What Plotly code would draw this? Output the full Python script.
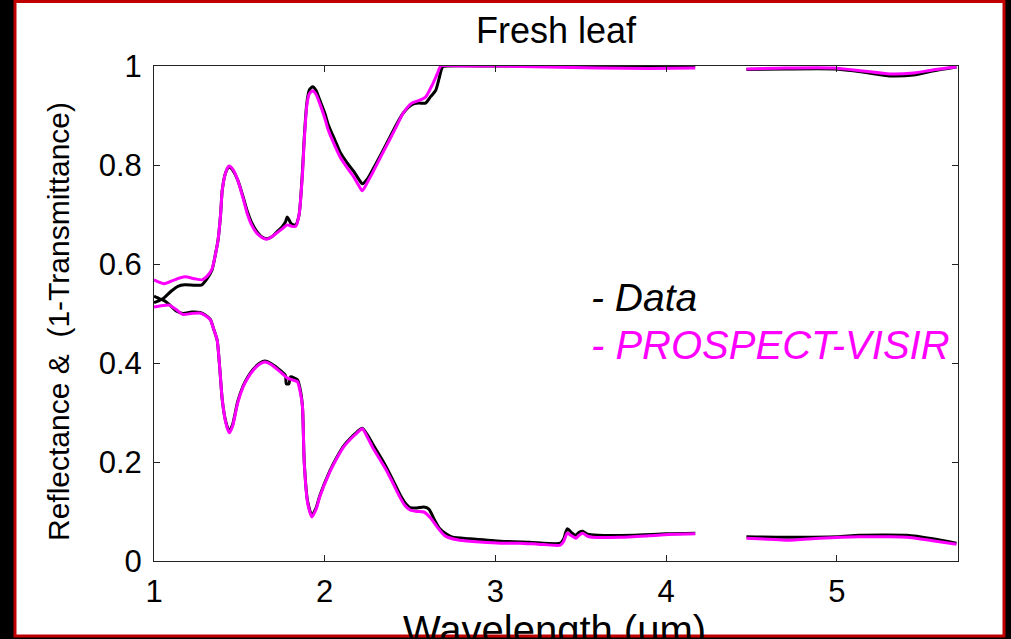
import plotly.graph_objects as go

# ---------------- data ----------------
# 1 - Transmittance, measured (black)
wl_t_data = [1.00, 1.03, 1.06, 1.10, 1.14, 1.18, 1.24, 1.28, 1.31, 1.34, 1.36, 1.375, 1.39, 1.40, 1.42,
             1.44, 1.46, 1.49, 1.52, 1.545, 1.57, 1.60, 1.63, 1.66, 1.69, 1.72, 1.75, 1.77, 1.78, 1.79,
             1.80, 1.81, 1.83, 1.85, 1.87, 1.88, 1.895, 1.91, 1.93, 1.95, 1.97, 2.00, 2.02, 2.06, 2.09,
             2.13, 2.17, 2.20, 2.22, 2.25, 2.28, 2.33, 2.38, 2.42, 2.46, 2.51, 2.55, 2.59, 2.62, 2.65,
             2.67, 2.69, 2.72, 3.0, 3.5, 4.17, None, 4.47, 4.7, 4.98, 5.15, 5.31, 5.45, 5.56, 5.7]
t_data = [0.522, 0.526, 0.532, 0.545, 0.555, 0.558, 0.557, 0.558, 0.57, 0.588, 0.62, 0.648, 0.70, 0.75, 0.785,
          0.797, 0.79, 0.77, 0.738, 0.708, 0.685, 0.667, 0.655, 0.651, 0.655, 0.665, 0.675, 0.685, 0.695, 0.69,
          0.683, 0.68, 0.679, 0.70, 0.79, 0.855, 0.925, 0.952, 0.958, 0.95, 0.932, 0.905, 0.882, 0.85, 0.826,
          0.805, 0.787, 0.771, 0.762, 0.772, 0.79, 0.822, 0.855, 0.882, 0.905, 0.922, 0.925, 0.925, 0.938, 0.951,
          0.975, 0.998, 1.0, 1.0, 1.0, 1.0, None, 0.993, 0.994, 0.994, 0.988, 0.980, 0.982, 0.99, 0.998]

# 1 - Transmittance, PROSPECT-VISIR (magenta)
wl_t_model = [1.00, 1.06, 1.12, 1.18, 1.24, 1.28, 1.31, 1.34, 1.36, 1.375, 1.39, 1.40, 1.42, 1.44, 1.46,
              1.49, 1.52, 1.545, 1.57, 1.60, 1.63, 1.66, 1.69, 1.72, 1.75, 1.78, 1.81, 1.83, 1.85, 1.87,
              1.88, 1.895, 1.91, 1.93, 1.95, 1.97, 2.00, 2.02, 2.06, 2.09, 2.13, 2.17, 2.20, 2.22, 2.25,
              2.28, 2.33, 2.38, 2.42, 2.46, 2.51, 2.55, 2.59, 2.63, 2.66, 2.68, 2.8, 3.0, 3.3, 3.6, 3.9,
              4.17, None, 4.47, 4.7, 4.98, 5.15, 5.31, 5.45, 5.56, 5.7]
t_model = [0.568, 0.560, 0.568, 0.574, 0.570, 0.568, 0.575, 0.590, 0.62, 0.648, 0.70, 0.75, 0.785, 0.798, 0.792,
           0.77, 0.735, 0.703, 0.68, 0.663, 0.654, 0.650, 0.655, 0.663, 0.671, 0.679, 0.676, 0.676, 0.70, 0.784,
           0.85, 0.92, 0.944, 0.950, 0.942, 0.925, 0.895, 0.871, 0.838, 0.816, 0.795, 0.776, 0.758, 0.748, 0.765,
           0.784, 0.818, 0.851, 0.878, 0.905, 0.925, 0.930, 0.937, 0.962, 0.985, 1.0, 1.0, 1.0, 0.998, 0.996, 0.995,
           0.996, None, 0.994, 0.996, 0.996, 0.99, 0.984, 0.986, 0.992, 0.998]

# Reflectance, measured (black)
wl_r_data = [1.00, 1.03, 1.06, 1.09, 1.13, 1.17, 1.22, 1.27, 1.30, 1.33, 1.35, 1.37, 1.385, 1.40, 1.42,
             1.44, 1.46, 1.49, 1.52, 1.55, 1.58, 1.62, 1.65, 1.69, 1.74, 1.77, 1.775, 1.79, 1.80, 1.84,
             1.86, 1.87, 1.88, 1.90, 1.925, 1.95, 1.97, 2.03, 2.07, 2.11, 2.15, 2.19, 2.22, 2.25, 2.28,
             2.32, 2.36, 2.40, 2.44, 2.47, 2.50, 2.54, 2.58, 2.61, 2.64, 2.67, 2.71, 2.75, 2.85, 3.03,
             3.2, 3.38, 3.40, 3.42, 3.45, 3.47, 3.49, 3.51, 3.54, 3.6, 3.8, 4.0, 4.17, None,
             4.47, 4.7, 5.0, 5.13, 5.41, 5.56, 5.7]
r_data = [0.535, 0.530, 0.526, 0.518, 0.505, 0.500, 0.503, 0.502, 0.497, 0.488, 0.468, 0.446, 0.39, 0.325, 0.282,
          0.262, 0.275, 0.322, 0.352, 0.372, 0.387, 0.40, 0.404, 0.398, 0.385, 0.375, 0.358, 0.358, 0.372, 0.366,
          0.34, 0.31, 0.2, 0.12, 0.092, 0.108, 0.131, 0.182, 0.209, 0.232, 0.248, 0.261, 0.268, 0.255, 0.237,
          0.214, 0.19, 0.163, 0.135, 0.118, 0.108, 0.107, 0.109, 0.105, 0.085, 0.067, 0.055, 0.048, 0.045, 0.040,
          0.038, 0.036, 0.045, 0.065, 0.056, 0.052, 0.058, 0.06, 0.054, 0.052, 0.052, 0.055, 0.056, None,
          0.049, 0.048, 0.049, 0.052, 0.052, 0.045, 0.036]

# Reflectance, PROSPECT-VISIR (magenta)
wl_r_model = [1.00, 1.05, 1.09, 1.13, 1.17, 1.22, 1.27, 1.30, 1.33, 1.35, 1.37, 1.385, 1.40, 1.42, 1.44,
              1.46, 1.49, 1.52, 1.55, 1.58, 1.62, 1.65, 1.69, 1.74, 1.78, 1.81, 1.84, 1.86, 1.87, 1.88,
              1.90, 1.925, 1.95, 1.97, 2.03, 2.07, 2.11, 2.15, 2.19, 2.22, 2.25, 2.28, 2.32, 2.36, 2.40,
              2.44, 2.47, 2.50, 2.54, 2.58, 2.62, 2.66, 2.70, 2.72, 2.79, 3.03, 3.14, 3.25, 3.38, 3.40,
              3.42, 3.45, 3.47, 3.49, 3.51, 3.54, 3.57, 3.73, 3.9, 4.05, 4.17, None,
              4.47, 4.6, 4.71, 4.9, 5.13, 5.3, 5.41, 5.56, 5.7]
r_model = [0.513, 0.516, 0.517, 0.508, 0.498, 0.500, 0.501, 0.496, 0.487, 0.468, 0.446, 0.39, 0.325, 0.28, 0.259,
           0.272, 0.319, 0.35, 0.37, 0.385, 0.398, 0.402, 0.396, 0.382, 0.370, 0.366, 0.362, 0.335, 0.311, 0.198,
           0.117, 0.089, 0.105, 0.129, 0.180, 0.207, 0.230, 0.246, 0.259, 0.267, 0.25, 0.230, 0.207, 0.184, 0.157,
           0.129, 0.112, 0.103, 0.100, 0.099, 0.087, 0.068, 0.052, 0.048, 0.042, 0.036, 0.036, 0.034, 0.032, 0.040,
           0.056, 0.050, 0.046, 0.052, 0.056, 0.050, 0.048, 0.048, 0.051, 0.054, 0.055, None,
           0.046, 0.044, 0.042, 0.046, 0.049, 0.049, 0.048, 0.041, 0.034]

x_ticks = [1, 2, 3, 4, 5]
x_tick_labels = ["1", "2", "3", "4", "5"]
y_ticks = [0, 0.2, 0.4, 0.6, 0.8, 1]
y_tick_labels = ["0", "0.2", "0.4", "0.6", "0.8", "1"]

BLACK = "#000000"
MAGENTA = "#ff00ff"
FONT = "Liberation Sans, Arial, Helvetica, sans-serif"

fig = go.Figure()
for wl, vals in [(wl_t_data, t_data), (wl_r_data, r_data)]:
    fig.add_trace(go.Scatter(x=wl, y=vals, mode="lines", line=dict(color=BLACK, width=3, shape="spline", smoothing=0.6),
                             connectgaps=False, showlegend=False, hoverinfo="skip"))
for wl, vals in [(wl_t_model, t_model), (wl_r_model, r_model)]:
    fig.add_trace(go.Scatter(x=wl, y=vals, mode="lines", line=dict(color=MAGENTA, width=3, shape="spline", smoothing=0.6),
                             connectgaps=False, showlegend=False, hoverinfo="skip"))

L, R, T, B = 154, 53, 66, 78
W, H = 1011, 639
pw, ph = W - L - R, H - T - B


def px(x):
    return (x - L) / pw


def py(y):
    return (H - B - y) / ph


axis_common = dict(showline=True, linecolor="#222222", linewidth=1, mirror="ticks",
                   ticks="inside", ticklen=6, tickcolor="#222222", showgrid=False, zeroline=False,
                   tickfont=dict(family=FONT, size=31, color=BLACK))

fig.update_layout(
    width=W, height=H, autosize=False,
    margin=dict(l=L, r=R, t=T, b=B, pad=0),
    paper_bgcolor="#000000", plot_bgcolor="#ffffff",
    xaxis=dict(range=[1, 5.709], tickvals=x_ticks, ticktext=x_tick_labels, ticklabelstandoff=3, **axis_common),
    yaxis=dict(range=[0, 1], tickvals=y_ticks, ticktext=y_tick_labels, ticklabelstandoff=5, **axis_common),
    shapes=[dict(type="rect", xref="paper", yref="paper", layer="below",
                 x0=px(15), x1=px(1004), y0=py(636), y1=py(1.5),
                 fillcolor="#ffffff", line=dict(color="#c00000", width=3))],
    annotations=[
        dict(text="Fresh leaf", xref="paper", yref="paper", x=px(556), y=py(31),
             xanchor="center", yanchor="middle", showarrow=False,
             font=dict(family=FONT, size=36, color=BLACK)),
        dict(text="Wavelength (um)", xref="paper", yref="paper", x=px(554), y=py(630),
             xanchor="center", yanchor="middle", showarrow=False,
             font=dict(family=FONT, size=40, color=BLACK)),
        dict(text="Reflectance &  (1-Transmittance)", xref="paper", yref="paper", x=px(58), y=py(322),
             xanchor="center", yanchor="middle", textangle=-90, showarrow=False,
             font=dict(family=FONT, size=30, color=BLACK)),
        dict(text="- Data", xref="paper", yref="paper", x=px(589), y=py(297),
             xanchor="left", yanchor="middle", showarrow=False,
             font=dict(family=FONT, size=39, color=BLACK, style="italic")),
        dict(text="- PROSPECT-VISIR", xref="paper", yref="paper", x=px(589), y=py(345),
             xanchor="left", yanchor="middle", showarrow=False,
             font=dict(family=FONT, size=40, color=MAGENTA, style="italic")),
    ],
)

fig.write_html("out.html")
